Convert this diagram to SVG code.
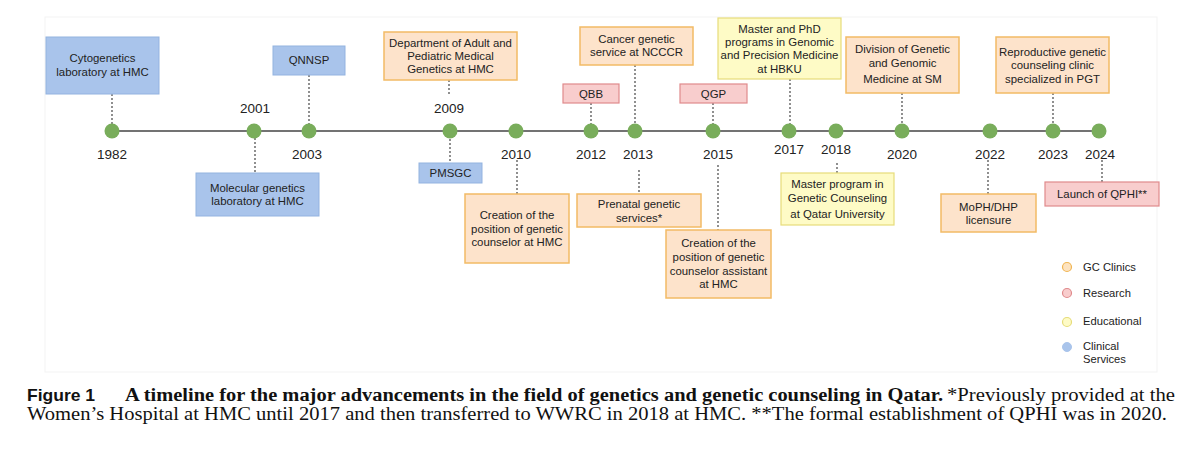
<svg xmlns="http://www.w3.org/2000/svg" width="1200" height="451" viewBox="0 0 1200 451">
<style>
.t{font-family:"Liberation Sans",Arial,sans-serif;font-size:11.4px;fill:#222;text-anchor:middle}
.y{font-family:"Liberation Sans",Arial,sans-serif;font-size:13.5px;fill:#222;text-anchor:middle}
.lg{font-family:"Liberation Sans",Arial,sans-serif;font-size:11.2px;fill:#222}
.blue{fill:#a9c4eb;stroke:#93b3e0;stroke-width:1}
.orange{fill:#fde3cb;stroke:#f2bb65;stroke-width:1.5}
.red{fill:#f8cdcd;stroke:#e08a8c;stroke-width:1.2}
.yellow{fill:#fefbc6;stroke:#e6dc7a;stroke-width:1.2}
.dot{fill:#79ad5b}
.dash{stroke:#555;stroke-width:1.3;stroke-dasharray:2 2;fill:none}
.cap{font-family:"Liberation Serif","Times New Roman",serif;font-size:18.5px;fill:#111}
</style>
<rect width="1200" height="451" fill="#fff"/>
<rect x="45" y="17" width="1112" height="355" fill="none" stroke="#f3f3f3" stroke-width="1"/>

<g id="connectors">
<line x1="112" y1="131" x2="1099" y2="131" stroke="#444" stroke-width="1.6"/>
<path class="dash" d="M112 94V124M255 138V173M309 75V124M449 80V95M450 139V163M517 160V194M591 103V124M635 65V124M639 170V194M713 103V124M718 165V230M790 79V124M837 163V173M902 93V124M988 160V194M1053 93V124M1102 160V182"/>
</g>

<g id="y1982"><circle class="dot" cx="112" cy="131" r="7.5"/><text class="y" x="112" y="159">1982</text></g>
<g id="y2001"><circle class="dot" cx="254" cy="131" r="7.5"/><text class="y" x="255" y="113">2001</text></g>
<g id="y2003"><circle class="dot" cx="309" cy="131" r="7.5"/><text class="y" x="307" y="159">2003</text></g>
<g id="y2009"><circle class="dot" cx="450" cy="131" r="7.5"/><text class="y" x="449" y="113">2009</text></g>
<g id="y2010"><circle class="dot" cx="516" cy="131" r="7.5"/><text class="y" x="516" y="159">2010</text></g>
<g id="y2012"><circle class="dot" cx="591" cy="131" r="7.5"/><text class="y" x="591" y="159">2012</text></g>
<g id="y2013"><circle class="dot" cx="635" cy="131" r="7.5"/><text class="y" x="638" y="159">2013</text></g>
<g id="y2015"><circle class="dot" cx="713" cy="131" r="7.5"/><text class="y" x="718" y="159">2015</text></g>
<g id="y2017"><circle class="dot" cx="789" cy="131" r="7.5"/><text class="y" x="789" y="154">2017</text></g>
<g id="y2018"><circle class="dot" cx="836" cy="131" r="7.5"/><text class="y" x="836" y="154">2018</text></g>
<g id="y2020"><circle class="dot" cx="902" cy="131" r="7.5"/><text class="y" x="902" y="159">2020</text></g>
<g id="y2022"><circle class="dot" cx="990" cy="131" r="7.5"/><text class="y" x="990" y="159">2022</text></g>
<g id="y2023"><circle class="dot" cx="1053" cy="131" r="7.5"/><text class="y" x="1053" y="159">2023</text></g>
<g id="y2024"><circle class="dot" cx="1099" cy="131" r="7.5"/><text class="y" x="1100" y="159">2024</text></g>

<g id="cytogenetics"><rect class="blue" x="46" y="37" width="113" height="57"/><text class="t" x="102.5" y="62">Cytogenetics</text><text class="t" x="102.5" y="76">laboratory at HMC</text></g>
<g id="qnnsp"><rect class="blue" x="273" y="46" width="72" height="29"/><text class="t" x="309" y="64">QNNSP</text></g>
<g id="molecular"><rect class="blue" x="196" y="173" width="123" height="43"/><text class="t" x="257.5" y="192">Molecular genetics</text><text class="t" x="257.5" y="205">laboratory at HMC</text></g>
<g id="department"><rect class="orange" x="384" y="32" width="133" height="48"/><text class="t" x="450.5" y="47">Department of Adult and</text><text class="t" x="450.5" y="60">Pediatric Medical</text><text class="t" x="450.5" y="73">Genetics at HMC</text></g>
<g id="pmsgc"><rect class="blue" x="419" y="163" width="63" height="20"/><text class="t" x="450.5" y="177">PMSGC</text></g>
<g id="gc-position"><rect class="orange" x="465" y="194" width="104" height="69"/><text class="t" x="517" y="219">Creation of the</text><text class="t" x="517" y="233">position of genetic</text><text class="t" x="517" y="246">counselor at HMC</text></g>
<g id="qbb"><rect class="red" x="563" y="84" width="56" height="19"/><text class="t" x="591" y="98">QBB</text></g>
<g id="cancer"><rect class="orange" x="580" y="27" width="113" height="38"/><text class="t" x="636.5" y="43">Cancer genetic</text><text class="t" x="636.5" y="56">service at NCCCR</text></g>
<g id="prenatal"><rect class="orange" x="577" y="194" width="124" height="33"/><text class="t" x="639" y="208">Prenatal genetic</text><text class="t" x="639" y="222">services*</text></g>
<g id="qgp"><rect class="red" x="680" y="84" width="67" height="19"/><text class="t" x="713.5" y="98">QGP</text></g>
<g id="gc-assistant"><rect class="orange" x="666" y="230" width="105" height="68"/><text class="t" x="718.5" y="247">Creation of the</text><text class="t" x="718.5" y="261">position of genetic</text><text class="t" x="718.5" y="275">counselor assistant</text><text class="t" x="718.5" y="288">at HMC</text></g>
<g id="hbku"><rect class="yellow" x="718" y="18" width="123" height="61"/><text class="t" x="779.5" y="33">Master and PhD</text><text class="t" x="779.5" y="46">programs in Genomic</text><text class="t" x="779.5" y="59">and Precision Medicine</text><text class="t" x="779.5" y="73">at HBKU</text></g>
<g id="qu"><rect class="yellow" x="781" y="173" width="113" height="52"/><text class="t" x="837.5" y="188">Master program in</text><text class="t" x="837.5" y="202">Genetic Counseling</text><text class="t" x="837.5" y="218">at Qatar University</text></g>
<g id="division"><rect class="orange" x="846" y="37" width="113" height="56"/><text class="t" x="902.5" y="53">Division of Genetic</text><text class="t" x="902.5" y="67">and Genomic</text><text class="t" x="902.5" y="83">Medicine at SM</text></g>
<g id="moph"><rect class="orange" x="941" y="194" width="95" height="38"/><text class="t" x="988.5" y="211">MoPH/DHP</text><text class="t" x="988.5" y="224">licensure</text></g>
<g id="reproductive"><rect class="orange" x="996" y="37" width="113" height="56"/><text class="t" x="1052.5" y="56">Reproductive genetic</text><text class="t" x="1052.5" y="69">counseling clinic</text><text class="t" x="1052.5" y="83">specialized in PGT</text></g>
<g id="qphi"><rect class="red" x="1045" y="182" width="114" height="24"/><text class="t" x="1102" y="198">Launch of QPHI**</text></g>

<g id="legend">
<circle cx="1067" cy="267" r="4.5" fill="#fde3c0" stroke="#f0b553" stroke-width="1.2"/><text class="lg" x="1083" y="271">GC Clinics</text>
<circle cx="1067" cy="293" r="4.5" fill="#f8cdcd" stroke="#e08a8c" stroke-width="1.2"/><text class="lg" x="1083" y="297">Research</text>
<circle cx="1067" cy="322" r="4.5" fill="#fefbc6" stroke="#e6dc7a" stroke-width="1.2"/><text class="lg" x="1083" y="325">Educational</text>
<circle cx="1067" cy="347" r="4.5" fill="#a9c4eb" stroke="#a9c4eb" stroke-width="1"/><text class="lg" x="1083" y="350">Clinical</text><text class="lg" x="1083" y="363">Services</text>
</g>

<g id="caption">
<text x="27" y="401" font-family="'Liberation Sans',Arial,sans-serif" font-weight="bold" font-size="17px" fill="#111" textLength="68" lengthAdjust="spacingAndGlyphs">Figure 1</text>
<text class="cap" x="125" y="401" font-weight="bold" textLength="818" lengthAdjust="spacingAndGlyphs">A timeline for the major advancements in the field of genetics and genetic counseling in Qatar.</text>
<text class="cap" x="947" y="401" textLength="228" lengthAdjust="spacingAndGlyphs">*Previously provided at the</text>
<text class="cap" x="27" y="420" textLength="1140" lengthAdjust="spacingAndGlyphs">Women’s Hospital at HMC until 2017 and then transferred to WWRC in 2018 at HMC. **The formal establishment of QPHI was in 2020.</text>
</g>
</svg>
